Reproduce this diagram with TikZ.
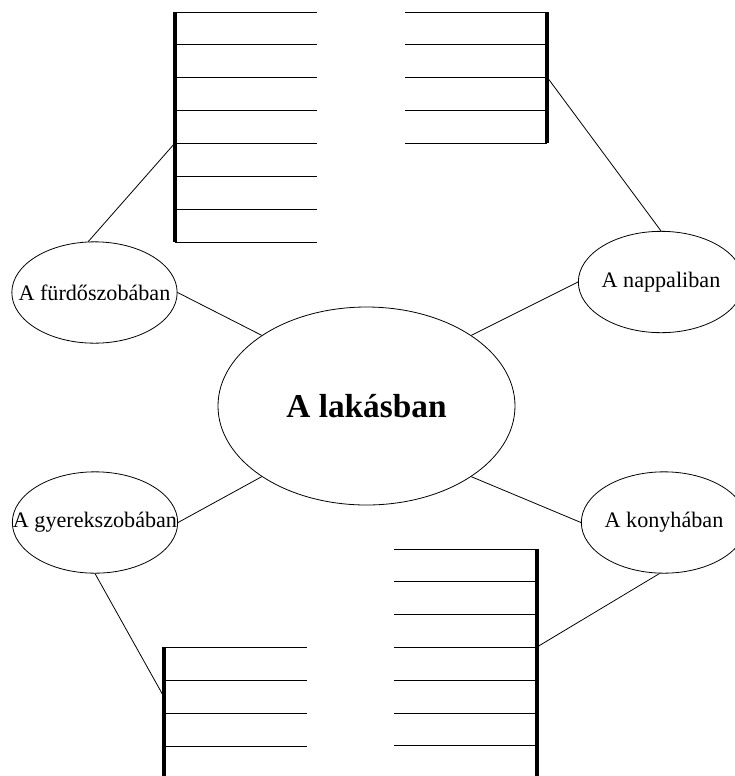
\documentclass[tikz,border=0pt]{standalone}
\usepackage{fontspec}
\setmainfont{Liberation Serif}
\usetikzlibrary{shapes.geometric}

\tikzset{
  room/.style={draw, ellipse, inner sep=0pt, line width=0.6pt,
    minimum width=124pt, minimum height=76pt,
    font=\fontsize{16.6}{19}\selectfont},
  hub/.style={draw, ellipse, inner sep=0pt, line width=0.6pt,
    minimum width=222.75pt, minimum height=148.5pt,
    font=\fontsize{25}{28}\selectfont\bfseries},
  link/.style={line width=0.6pt},
  bar/.style={line width=3pt},
  row/.style={line width=0.7pt}
}

\begin{document}
\begin{tikzpicture}[x=0.75pt, y=-0.75pt]
  \useasboundingbox (0,0) rectangle (735,776);

  % the middle and the four rooms
  \node[hub] (lak) at (366.5,406) {A lakásban};
  \node[room] (fur) at (94.5,292.5) {\makebox[0pt]{A fürdőszobában}};
  \node[room] (nap) at (661,282) {\makebox[0pt]{A nappaliban}};
  \node[room] (gyer) at (95,522.5) {\makebox[0pt]{A gyerekszobában}};
  \node[room] (kon) at (664,522.5) {\makebox[0pt]{A konyhában}};

  % the four lists
  \draw[bar] (175,12) -- (175,242);
  \foreach \i in {0,...,7} {
    \draw[row] (175,{12+32.86*\i}) -- (317,{12+32.86*\i});
  }
  \draw[bar] (547,12) -- (547,143);
  \foreach \i in {0,...,4} {
    \draw[row] (405,{12+32.75*\i}) -- (547,{12+32.75*\i});
  }
  \draw[bar] (164,647) -- (164,780);
  \foreach \i in {0,...,3} {
    \draw[row] (164,{647+33*\i}) -- (307,{647+33*\i});
  }
  \draw[bar] (537,549) -- (537,780);
  \foreach \i in {0,...,6} {
    \draw[row] (394,{549+32.8*\i}) -- (537,{549+32.8*\i});
  }

  \coordinate (tl) at (175,143);
  \coordinate (tr) at (547,77);
  \coordinate (bl) at (164,697);
  \coordinate (br) at (537,647);

  % connectors
  \draw[link] (fur.east) -- (lak.146);
  \draw[link] (nap.west) -- (lak.34);
  \draw[link] (gyer.east) -- (lak.214);
  \draw[link] (kon.west) -- (lak.326);
  \draw[link] (fur.97) -- (tl);
  \draw[link] (nap.north) -- (tr);
  \draw[link] (gyer.south) -- (bl);
  \draw[link] (kon.-95) -- (br);
\end{tikzpicture}
\end{document}
